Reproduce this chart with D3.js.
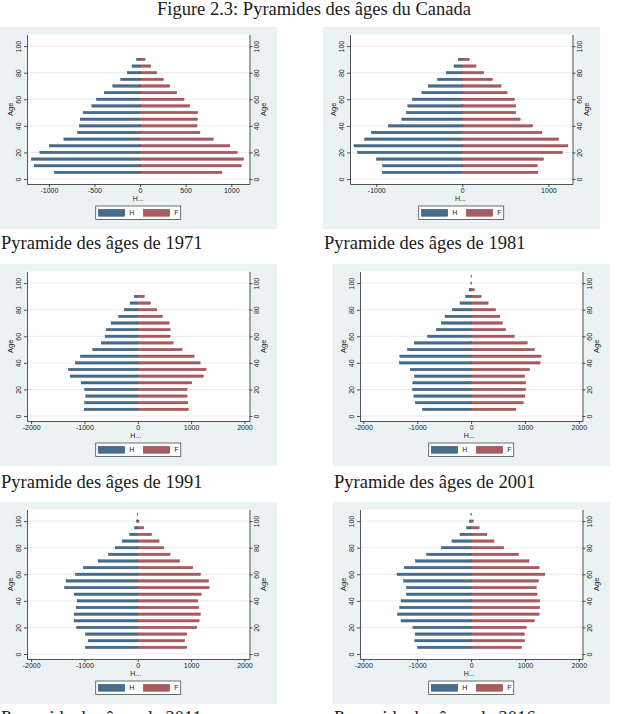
<!DOCTYPE html>
<html>
<head>
<meta charset="utf-8">
<script src="https://cdn.jsdelivr.net/npm/d3@7"></script>
<style>
  html, body { margin: 0; padding: 0; background: #fff; }
  svg { display: block; }
</style>
</head>
<body>
<div id="fig"></div>
<script>
var W = 618, H = 714;

// tranches d'age (borne haute du groupe quinquennal)
var ages = [5, 10, 15, 20, 25, 30, 35, 40, 45, 50, 55, 60, 65, 70, 75, 80, 85, 90, 95, 100, 105];
var annees = [1971, 1981, 1991, 2001, 2011, 2016];

var hommes1971 = [938, 1161, 1193, 1099, 993, 836, 686, 664, 657, 624, 529, 478, 391, 299, 212, 139, 88, 36];
var femmes1971 = [898, 1109, 1135, 1066, 985, 803, 657, 624, 631, 631, 544, 482, 401, 325, 255, 182, 117, 55];
var hommes1981 = [928, 924, 998, 1216, 1258, 1134, 1056, 858, 703, 649, 633, 579, 470, 396, 287, 186, 97, 47];
var femmes1981 = [878, 870, 944, 1165, 1227, 1118, 924, 816, 672, 621, 621, 606, 520, 450, 350, 249, 159, 82];
var hommes1991 = [1006, 994, 975, 994, 1062, 1269, 1300, 1169, 1075, 844, 681, 612, 587, 500, 356, 250, 144, 62];
var femmes1991 = [950, 938, 925, 925, 1012, 1231, 1281, 1169, 1056, 831, 662, 606, 606, 587, 462, 356, 238, 125];
var hommes2001 = [901, 1031, 1062, 1087, 1081, 1050, 1130, 1329, 1323, 1180, 1050, 807, 640, 553, 484, 348, 205, 99, 37, 4, 2];
var femmes2001 = [832, 969, 1000, 1012, 1012, 994, 1087, 1280, 1298, 1174, 1043, 801, 640, 578, 534, 453, 317, 186, 62, 6, 2];
var hommes2011 = [981, 931, 981, 1144, 1194, 1194, 1156, 1138, 1194, 1375, 1344, 1169, 1019, 744, 550, 419, 294, 150, 56, 19, 3];
var femmes2011 = [919, 875, 919, 1106, 1150, 1175, 1144, 1125, 1188, 1338, 1325, 1175, 1031, 781, 606, 487, 400, 262, 112, 25, 3];
var hommes2016 = [994, 1044, 1038, 1081, 1300, 1363, 1325, 1300, 1200, 1200, 1250, 1375, 1238, 1031, 825, 550, 356, 206, 81, 31, 3];
var femmes2016 = [938, 988, 988, 1025, 1175, 1263, 1275, 1275, 1225, 1213, 1250, 1369, 1263, 1075, 881, 606, 425, 294, 150, 44, 3];

var xTicks1971 = [-1000, -500, 0, 500, 1000];
var xTicks1981 = [-1000, 0, 1000];
var xTicksLarge = [-2000, -1000, 0, 1000, 2000];
var yTicks = [0, 20, 40, 60, 80, 100];
var xMin = [-1240, -1305, -2077, -2062, -2077, -2062];
var xMax = [1200, 1280, 2095, 2068, 2095, 2068];
var yMin = -3.75, yMax = 108.75;

var pyramides = [
  {annee: annees[0], h: hommes1971, f: femmes1971, ticks: xTicks1971},
  {annee: annees[1], h: hommes1981, f: femmes1981, ticks: xTicks1981},
  {annee: annees[2], h: hommes1991, f: femmes1991, ticks: xTicksLarge},
  {annee: annees[3], h: hommes2001, f: femmes2001, ticks: xTicksLarge},
  {annee: annees[4], h: hommes2011, f: femmes2011, ticks: xTicksLarge},
  {annee: annees[5], h: hommes2016, f: femmes2016, ticks: xTicksLarge}
];

var pos = [[0, 27], [323, 27], [0, 264], [333, 264], [0, 502], [333, 502]],
    pw = 277, ph = 202,
    m = {left: 27, right: 249.5, top: 7.5, bottom: 157},
    captionY = [249, 249, 488, 488, 724, 724];

var bleu = "#486c8c", bleuTrait = "#1a476f",
    rouge = "#a85c62", rougeTrait = "#90353b",
    fond = "#eaf2f3",
    sans = "'Liberation Sans', Arial, sans-serif",
    serif = "'Liberation Serif', 'Times New Roman', serif";

var svg = d3.select("#fig")
            .append("svg")
            .attr("width", W)
            .attr("height", H);

svg.append("text")
   .attr("x", 314)
   .attr("y", 15)
   .attr("text-anchor", "middle")
   .style("font-family", serif)
   .style("font-size", "18.5px")
   .style("fill", "#1a1a1a")
   .text("Figure 2.3: Pyramides des âges du Canada");

pyramides.forEach((p, i) => {

  var g = svg.append("g")
             .attr("transform", `translate(${pos[i][0]},${pos[i][1]})`);

  g.append("rect")
   .attr("width", pw)
   .attr("height", ph)
   .attr("fill", fond);

  g.append("rect")
   .attr("x", m.left)
   .attr("y", m.top)
   .attr("width", m.right - m.left)
   .attr("height", m.bottom - m.top)
   .attr("fill", "#fff");

  var x = d3.scaleLinear().domain([xMin[i], xMax[i]]).range([m.left, m.right]),
      y = d3.scaleLinear().domain([yMin, yMax]).range([m.bottom, m.top]);

  g.selectAll(".grid")
   .data(yTicks)
   .enter()
   .append("line")
   .attr("class", "grid")
   .attr("x1", m.left)
   .attr("x2", m.right)
   .attr("y1", (d) => y(d))
   .attr("y2", (d) => y(d))
   .attr("stroke", "#e4ecee")
   .attr("stroke-width", 1);

  var rows = p.h.map((v, k) => ({age: ages[k], h: v, f: p.f[k]})),
      bh = y(0) - y(1.8);

  g.selectAll(".barH")
   .data(rows)
   .enter()
   .append("rect")
   .attr("class", "barH")
   .attr("x", (d) => x(-d.h))
   .attr("y", (d) => y(d.age) - bh / 2)
   .attr("width", (d) => x(0) - x(-d.h))
   .attr("height", bh)
   .attr("fill", bleu)
   .attr("stroke", bleuTrait)
   .attr("stroke-width", 0.4);

  g.selectAll(".barF")
   .data(rows)
   .enter()
   .append("rect")
   .attr("class", "barF")
   .attr("x", x(0))
   .attr("y", (d) => y(d.age) - bh / 2)
   .attr("width", (d) => x(d.f) - x(0))
   .attr("height", bh)
   .attr("fill", rouge)
   .attr("stroke", rougeTrait)
   .attr("stroke-width", 0.4);

  // axes
  var axeX = g.append("g")
              .attr("transform", `translate(0,${m.bottom})`)
              .call(d3.axisBottom(x).tickValues(p.ticks).tickSize(3).tickSizeOuter(0).tickPadding(1.5).tickFormat(d3.format("d")));

  var axeG = g.append("g")
              .attr("transform", `translate(${m.left},0)`)
              .call(d3.axisLeft(y).tickValues(yTicks).tickSize(3).tickSizeOuter(0));

  var axeD = g.append("g")
              .attr("transform", `translate(${m.right},0)`)
              .call(d3.axisRight(y).tickValues(yTicks).tickSize(3).tickSizeOuter(0));

  [axeX, axeG, axeD].forEach((a) => {
    a.attr("font-family", null).attr("font-size", null);
    a.select(".domain").attr("stroke", "#2a2a2a").attr("stroke-width", 0.8);
    a.selectAll(".tick line").attr("stroke", "#2a2a2a").attr("stroke-width", 0.8);
    a.selectAll(".tick text")
     .style("font-family", sans)
     .style("font-size", "7px")
     .style("fill", "#222");
  });

  axeX.selectAll(".tick text").text((d) => d3.format("d")(d).replace("−", "-"));

  axeG.selectAll(".tick text")
      .attr("x", 0)
      .attr("dy", "0.35em")
      .attr("text-anchor", "middle")
      .attr("transform", "translate(-8.7,0) rotate(-90)");

  axeD.selectAll(".tick text")
      .attr("x", 0)
      .attr("dy", "0.35em")
      .attr("text-anchor", "middle")
      .attr("transform", "translate(7.3,0) rotate(-90)");

  var milieuY = (m.top + m.bottom) / 2,
      milieuX = (m.left + m.right) / 2;

  [10.8, 263.6].forEach((ax) => {
    g.append("text")
     .attr("transform", `translate(${ax},${milieuY}) rotate(-90)`)
     .attr("text-anchor", "middle")
     .attr("dy", "0.35em")
     .style("font-family", sans)
     .style("font-size", "7.5px")
     .style("fill", "#222")
     .text("Age");
  });

  g.append("text")
   .attr("x", x(0) - 2)
   .attr("y", 173.5)
   .attr("text-anchor", "middle")
   .style("font-family", sans)
   .style("font-size", "7px")
   .style("fill", "#222")
   .text("H...");

  // legende
  var lg = g.append("g").attr("transform", `translate(${milieuX - 42.5},179)`);

  lg.append("rect")
    .attr("width", 85)
    .attr("height", 13.5)
    .attr("fill", "#fff")
    .attr("stroke", "#333")
    .attr("stroke-width", 0.7);

  [{nom: "H", c: bleu, t: bleuTrait, dx: 2.5}, {nom: "F", c: rouge, t: rougeTrait, dx: 47.5}].forEach((s) => {
    lg.append("rect")
      .attr("x", s.dx)
      .attr("y", 3.3)
      .attr("width", 26.5)
      .attr("height", 7)
      .attr("fill", s.c)
      .attr("stroke", s.t)
      .attr("stroke-width", 0.4);
    lg.append("text")
      .attr("x", s.dx + 31)
      .attr("y", 9.4)
      .style("font-family", sans)
      .style("font-size", "7px")
      .style("fill", "#222")
      .text(s.nom);
  });

  svg.append("text")
     .attr("x", pos[i][0] + 1)
     .attr("y", captionY[i])
     .style("font-family", serif)
     .style("font-size", "18.5px")
     .style("fill", "#1a1a1a")
     .text(`Pyramide des âges de ${p.annee}`);
});
</script>
</body>
</html>
